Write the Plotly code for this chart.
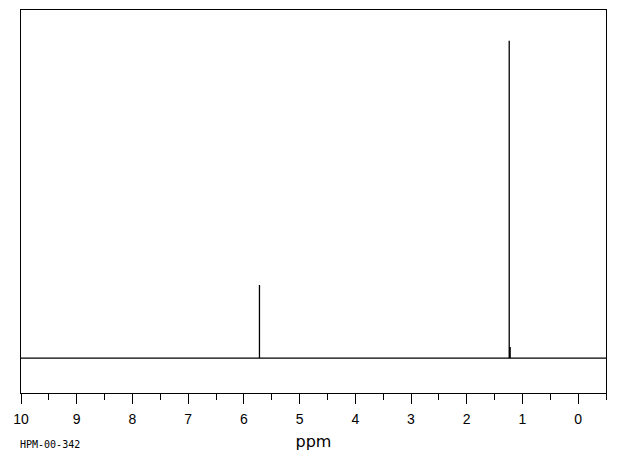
import plotly.graph_objects as go

# Peak data (ppm, relative intensity)
peak_ppm = [5.72, 1.237, 1.22]
peak_int = [23.0, 100.0, 3.5]
tick_vals = [10, 9, 8, 7, 6, 5, 4, 3, 2, 1, 0]
tick_text = ["10", "9", "8", "7", "6", "5", "4", "3", "2", "1", "0"]
x_start, x_end = 10.0, -0.5

# build stick spectrum from peak lists
xs = [x_start]
ys = [0.0]
order = sorted(range(len(peak_ppm)), key=lambda i: -peak_ppm[i])
for i in order:
    xs += [peak_ppm[i], peak_ppm[i], peak_ppm[i]]
    ys += [0.0, peak_int[i], 0.0]
xs.append(x_end)
ys.append(0.0)

# page has an 8px body margin, so the figure is sized/offset accordingly
W, H = 612, 447
ML, MR, MT, MB = 12.5, 13.5, 1.5, 62

fig = go.Figure()
fig.add_trace(go.Scatter(x=xs, y=ys, mode="lines",
                         line=dict(color="black", width=1.3),
                         hoverinfo="skip", showlegend=False))

fig.update_layout(
    width=W, height=H,
    margin=dict(l=ML, r=MR, t=MT, b=MB, autoexpand=False),
    paper_bgcolor="white", plot_bgcolor="white",
    font=dict(family="DejaVu Sans", color="black"),
    xaxis=dict(range=[x_start, x_end], tickvals=tick_vals, ticktext=tick_text,
               ticks="outside", ticklen=10, tickwidth=1, tickcolor="black",
               minor=dict(ticks="outside", ticklen=6, tickwidth=1, tickcolor="black", dtick=0.5),
               showline=True, linecolor="black", linewidth=1.3, mirror=True,
               showgrid=False, zeroline=False, ticklabelstandoff=3,
               tickfont=dict(size=14, family="Liberation Sans"),
               title=dict(text="ppm", font=dict(size=16, family="DejaVu Sans"), standoff=9)),
    yaxis=dict(range=[-11.0, 109.65], showticklabels=False, ticks="",
               showline=True, linecolor="black", linewidth=1.3, mirror=True,
               showgrid=False, zeroline=False),
)
plot_h = H - MT - MB
plot_w = W - ML - MR
fig.add_annotation(text="HPM-00-342", xref="paper", yref="paper",
                   x=(9 - ML) / plot_w, y=-(437 - (H - MB)) / plot_h,
                   xanchor="left", yanchor="middle", showarrow=False,
                   font=dict(size=10, family="DejaVu Sans Mono"))

fig.write_html("out.html")
